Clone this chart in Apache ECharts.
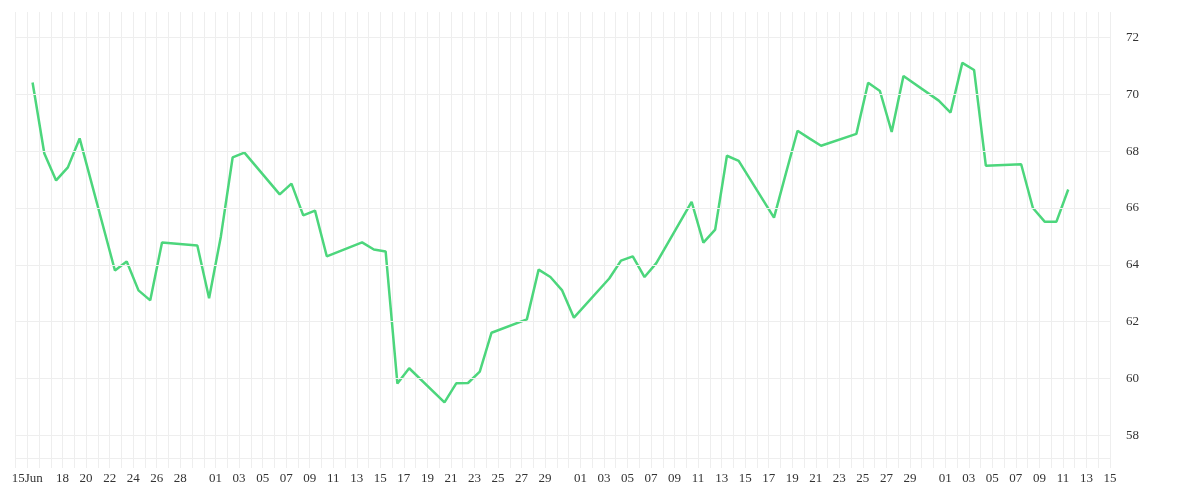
<!DOCTYPE html>
<html><head><meta charset="utf-8">
<script src="https://cdn.jsdelivr.net/npm/echarts@6/dist/echarts.min.js"></script>
<style>html,body{margin:0;padding:0;background:#fff}#c{width:1200px;height:500px}</style>
</head><body><div id="c"></div>
<script>
const dates = ['06-15','06-16','06-17','06-18','06-19','06-22','06-23','06-24','06-25','06-26','06-29','06-30',
'07-01','07-02','07-03','07-06','07-07','07-08','07-09','07-10','07-13','07-14','07-15','07-16','07-17',
'07-20','07-21','07-22','07-23','07-24','07-27','07-28','07-29','07-30','07-31',
'08-03','08-04','08-05','08-06','08-07','08-10','08-11','08-12','08-13','08-14','08-17','08-18','08-19','08-20','08-21',
'08-24','08-25','08-26','08-27','08-28','08-31','09-01','09-02','09-03','09-04','09-07','09-08','09-09','09-10','09-11'];
const values = [70.42,67.92,66.97,67.43,68.45,63.80,64.12,63.10,62.75,64.79,64.68,62.82,
65.0,67.78,67.95,66.48,66.86,65.74,65.91,64.30,64.79,64.54,64.47,59.82,60.36,
59.16,59.83,59.84,60.24,61.61,62.08,63.83,63.57,63.10,62.14,
63.52,64.15,64.30,63.57,64.06,66.22,64.78,65.24,67.84,67.66,65.66,67.2,68.72,68.45,68.19,
68.61,70.41,70.12,68.68,70.65,69.78,69.36,71.11,70.86,67.49,67.54,66.0,65.52,65.52,66.65];
const yTicks = [58,60,62,64,66,68,70,72];
const monthNames = ['Jan','Feb','Mar','Apr','May','Jun','Jul','Aug','Sep','Oct','Nov','Dec'];
const start = Date.UTC(2020,5,15);
const DAY = 86400000;
function idx(s){const [m,d]=s.split('-').map(Number);return Math.round((Date.UTC(2020,m-1,d)-start)/DAY);}
const data = dates.map((s,i)=>[idx(s)+0.45, values[i]]);
const font = {fontFamily:'"Liberation Serif", "DejaVu Serif", serif', fontSize:13, color:'#333'};
const chart = echarts.init(document.getElementById('c'));
chart.setOption({
  animation:false,
  grid:{left:15.5,right:90,top:12,bottom:42},
  xAxis:{type:'value',min:-1,max:92,interval:1,
    axisLine:{lineStyle:{color:'#eeeeee'}},
    axisTick:{length:10,lineStyle:{color:'#eeeeee'}},
    splitLine:{show:true,lineStyle:{color:'#eeeeee'}},
    axisLabel:Object.assign({margin:14,showMinLabel:true,showMaxLabel:true,interval:0,hideOverlap:false,
      formatter:function(v){
        const dt=new Date(start+Math.round(v)*DAY);const m=dt.getUTCMonth(),d=dt.getUTCDate();
        const dd=(d<10?'0':'')+d;
        if(m===5){ if(d===15) return dd+monthNames[m]; if(d>=18&&d%2===0&&d<30) return dd; return ''; }
        if(m>5){ if(d%2===1&&d!==31) return dd; return ''; }
        return '';
      }},font)},
  yAxis:{type:'value',position:'right',min:57.2,max:72.9,
    axisLine:{show:false},axisTick:{show:false},splitLine:{show:false},axisLabel:{show:false}},
  series:[
    {type:'line',data:[],z:1,markLine:{silent:true,symbol:'none',
      lineStyle:{color:'#eeeeee',type:'solid',width:1},
      label:Object.assign({position:'end',distance:16,formatter:'{c}'},font),
      data:yTicks.map(v=>({yAxis:v}))}},
    {type:'line',data:data,z:3,showSymbol:false,symbol:'none',
      lineStyle:{color:'#4cd67c',width:2.5},itemStyle:{color:'#4cd67c'}}
  ]
});
</script></body></html>
